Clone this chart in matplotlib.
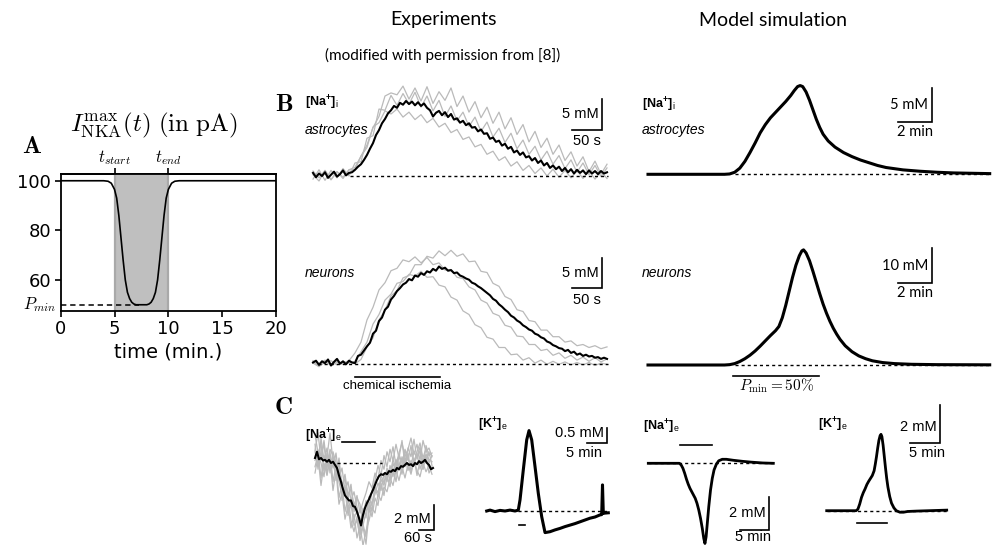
import numpy as np
import matplotlib
matplotlib.use('Agg')
import matplotlib.pyplot as plt

plt.rcParams['mathtext.fontset'] = 'cm'
plt.rcParams['mathtext.rm'] = 'Liberation Sans'
plt.rcParams['mathtext.bf'] = 'Liberation Sans:bold'
plt.rcParams['mathtext.it'] = 'Liberation Sans:italic'

# ---------------- DATA ----------------
# Panel A: pump capacity (% / pA) vs time (min)
a_time = [0, 4.0, 4.4, 4.7, 5.0, 5.2, 5.4, 5.6, 5.8, 6.0, 6.2, 6.4, 6.6, 6.8, 7.0, 7.5,
          8.0, 8.2, 8.4, 8.6, 8.8, 9.0, 9.2, 9.4, 9.6, 9.8, 10.0, 10.3, 10.6, 11.0, 20]
a_pump = [100, 100, 99.8, 99, 96.5, 93, 86, 77, 68, 60, 55, 52.5, 51, 50.3, 50, 50,
          50, 50.3, 51, 52.5, 55, 60, 68, 77, 86, 93, 96.5, 99, 99.8, 100, 100]
a_pmin = 50

# Panel B experiments: astrocytes [Na+]i (mM above baseline), 5 s sampling
astro_exp_black = [0.5, -0.2, 0.4, 0.0, 0.6, -0.3, 0.2, 0.7, -0.1, 0.3, 0.9, 0.1, 0.5,
                   0.6, 1.0, 1.5, 1.9, 2.6, 3.4, 4.4, 5.3, 6.6, 7.4, 8.5, 9.2, 10.1, 10.6,
                   11.3, 11.0, 11.8, 11.5, 12.1, 11.6, 12.0, 11.4, 11.9, 11.3, 11.7, 11.0,
                   10.6, 9.6, 10.2, 10.5, 9.8, 10.3, 9.5, 10.0, 9.1, 9.3, 8.6, 8.9, 8.2, 8.5,
                   7.8, 7.9, 7.2, 7.5, 6.8, 6.9, 6.0, 6.2, 5.5, 5.7, 4.9, 5.2, 4.4, 4.7, 3.8,
                   4.1, 3.4, 3.8, 3.0, 3.2, 2.5, 2.9, 2.1, 2.5, 1.7, 2.1, 1.3, 1.7, 1.1, 1.5,
                   0.8, 1.3, 0.6, 1.1, 0.4, 1.0, 0.5, 0.9, 0.3, 0.9, 0.4, 0.8, 0.3, 0.8, 0.4, 0.6]
# gray single-cell traces, 10 s sampling
astro_exp_gray = [
    [0.2, -0.8, 0.9, -0.6, 0.7, -0.4, 1.0, 1.4, 3.2, 5.0, 7.8, 9.6, 12.9, 13.4, 13.1, 14.5,
     12.4, 14.2, 12.1, 14.4, 11.7, 13.6, 12.2, 14.2, 11.2, 12.9, 10.3, 12.0, 9.4, 11.1, 8.5,
     10.3, 7.6, 9.4, 6.7, 8.3, 5.5, 7.2, 4.6, 6.1, 3.5, 5.0, 2.5, 3.9, 1.6, 3.1, 0.7, 2.4, 0.3, 1.9],
    [0.8, -0.3, 0.9, -0.6, 0.7, -0.2, 1.0, 1.0, 3.2, 4.6, 7.9, 8.6, 10.5, 10.0, 10.8, 9.5, 10.3,
     9.1, 9.9, 8.6, 9.3, 7.9, 8.5, 7.0, 7.5, 5.9, 6.3, 4.7, 5.1, 3.5, 4.0, 2.5, 3.1, 1.6, 2.3,
     0.9, 1.7, 0.4, 1.3, 0.0, 1.1, -0.2, 0.9, -0.3, 0.9, -0.4, 0.8, -0.5, 0.7, -0.4],
    [-0.5, 1.0, -0.7, 0.9, -0.3, 1.2, 0.0, 2.1, 2.3, 6.1, 6.5, 10.8, 10.6, 13.0, 11.4, 13.3,
     11.6, 13.5, 11.1, 12.9, 10.5, 12.2, 9.6, 11.3, 8.9, 10.3, 8.0, 9.5, 7.2, 8.7, 6.3, 7.7,
     5.4, 6.9, 4.4, 5.8, 3.5, 4.8, 2.6, 4.0, 1.9, 3.3, 1.2, 2.6, 0.6, 2.1, 0.2, 1.7, -0.1, 1.3],
]

# Panel B experiments: neurons [Na+]i, 5 s sampling
neuron_exp_black = [0.3, 0.6, -0.1, 0.5, 0.2, 0.8, -0.2, 0.4, 0.9, 0.1, 0.5, 0.0, 0.6, 0.3, 0.2,
                    1.4, 1.6, 2.3, 3.0, 3.6, 5.1, 5.6, 7.2, 7.8, 9.1, 9.6, 10.8, 11.4, 12.2, 12.7,
                    13.3, 13.6, 14.2, 14.0, 14.8, 14.6, 15.2, 14.9, 15.5, 15.3, 15.9, 15.6, 16.3,
                    15.9, 16.1, 15.6, 15.7, 15.2, 15.3, 14.8, 14.6, 14.3, 14.1, 13.6, 13.4, 13.0,
                    12.7, 12.3, 11.9, 11.5, 10.9, 10.6, 10.0, 9.6, 9.1, 8.7, 8.1, 7.8, 7.3, 7.0,
                    6.5, 6.2, 5.8, 5.6, 5.1, 4.9, 4.5, 4.3, 3.8, 3.6, 3.2, 3.0, 2.7, 2.6, 2.2,
                    2.4, 1.9, 2.1, 1.6, 1.8, 1.4, 1.6, 1.3, 1.4, 1.1, 1.2, 0.9, 1.1, 0.9]
neuron_exp_gray = [
    [0.2, -0.4, 0.5, -0.2, 0.3, 0.0, 0.4, 0.1, 0.8, 2.9, 4.4, 7.4, 9.0, 11.4, 12.3, 14.4, 14.8,
     16.6, 16.6, 18.0, 17.7, 18.9, 18.1, 19.0, 18.0, 18.4, 17.1, 17.2, 15.5, 15.3, 13.5, 13.0,
     11.3, 10.8, 9.1, 8.8, 7.3, 7.1, 5.7, 5.7, 4.6, 4.6, 3.7, 3.9, 3.1, 3.3, 2.8, 3.1, 2.6, 2.9],
    [0.6, 0.1, 0.7, 0.0, 0.5, 0.2, 0.6, 1.9, 3.7, 7.4, 9.5, 12.4, 13.6, 15.6, 16.0, 17.4, 17.1,
     17.9, 16.9, 17.8, 16.6, 16.9, 15.7, 15.8, 14.5, 14.3, 12.9, 12.4, 10.7, 10.2, 8.5, 8.1,
     6.5, 6.2, 4.7, 4.6, 3.3, 3.3, 2.3, 2.5, 1.5, 1.9, 1.0, 1.5, 0.7, 1.2, 0.5, 1.1, 0.4, 0.9],
    [0.4, -0.3, 0.3, 0.6, -0.1, 0.4, 0.2, 0.5, 2.1, 3.7, 6.7, 8.3, 10.7, 11.7, 13.5, 13.8, 15.0,
     14.7, 15.5, 14.5, 14.6, 13.2, 12.9, 11.2, 10.7, 8.9, 8.3, 6.6, 6.1, 4.5, 4.2, 2.8, 2.8,
     1.6, 1.7, 0.7, 1.1, 0.2, 0.7, 0.0, 0.5, 0.0, 0.4, -0.1, 0.3, -0.1, 0.3, -0.2, 0.2, 0.0],
]

# Panel B model (time min, mM above baseline)
astro_mod_t = [0, 4.5, 4.8, 5.1, 5.4, 5.7, 6.0, 6.3, 6.6, 6.9, 7.2, 7.5, 7.8, 8.1, 8.4, 8.6,
               8.8, 8.95, 9.1, 9.3, 9.5, 9.7, 9.9, 10.1, 10.3, 10.6, 11.0, 11.5, 12.0, 12.5,
               13.0, 13.5, 14.0, 15.0, 16.0, 17.0, 18.0, 20.1]
astro_mod_v = [0, 0, 0.05, 0.3, 0.9, 1.9, 3.2, 4.6, 6.1, 7.3, 8.3, 9.1, 9.9, 10.7, 11.6, 12.3,
               12.9, 13.05, 12.9, 12.1, 10.9, 9.5, 8.1, 6.9, 5.9, 4.9, 4.0, 3.2, 2.6, 2.1,
               1.7, 1.3, 1.0, 0.65, 0.45, 0.3, 0.2, 0.1]
neuron_mod_t = [0, 4.5, 4.8, 5.1, 5.4, 5.7, 6.0, 6.3, 6.6, 6.9, 7.2, 7.5, 7.7, 7.9, 8.1, 8.3,
                8.5, 8.7, 8.9, 9.05, 9.15, 9.3, 9.5, 9.7, 9.9, 10.1, 10.3, 10.5, 10.7, 10.9,
                11.1, 11.3, 11.6, 12.0, 12.4, 12.8, 13.2, 13.8, 14.5, 15.5, 17.0, 20.1]
neuron_mod_v = [0, 0, 0.1, 0.4, 1.0, 1.8, 2.8, 4.0, 5.4, 6.9, 8.4, 9.8, 11.0, 13.5, 17.0, 21.0,
                25.0, 28.5, 31.2, 32.6, 32.9, 32.0, 29.8, 26.8, 23.6, 20.4, 17.4, 14.8, 12.5,
                10.5, 8.8, 7.3, 5.5, 3.8, 2.6, 1.8, 1.2, 0.7, 0.4, 0.2, 0.1, 0.05]

# Panel C experiments: [Na+]e (8 s sampling, mM change)
nae_exp_black = [0.4, 0.9, 0.3, 0.4, 0.2, 0.25, 0.1, 0.25, 0.0, 0.1, -0.15, -0.4, -1.0, -1.5,
                 -2.1, -2.6, -2.8, -3.0, -3.0, -3.45, -3.5, -3.9, -4.4, -5.0, -4.15, -3.6, -3.2,
                 -2.9, -2.5, -2.15, -1.75, -1.35, -1.05, -0.9, -0.95, -0.8, -0.9, -0.65, -0.7,
                 -0.55, -0.65, -0.4, -0.5, -0.25, -0.3, -0.15, 0.0, -0.15, -0.1, -0.25, 0.0,
                 -0.1, 0.15, 0.0, 0.1, 0.25, 0.0, -0.15, -0.5, -0.4]
nae_exp_gray = [  # 12 s sampling
    [1.5, -0.5, 2.0, 0.2, 1.2, -0.8, 0.9, 0.0, -1.5, -2.5, -1.8, -3.6, -3.0, -4.5, -3.8, -5.6,
     -4.2, -3.0, -3.9, -2.2, -1.4, -0.2, -1.0, 0.6, -0.3, 1.1, 0.2, 1.5, 0.4, 1.8, -0.2, 1.2,
     0.5, 1.9, 0.3, 1.0, -0.5, 1.4, 0.6, 0.8],
    [0.2, 1.0, -1.2, 0.6, -0.4, 0.9, -1.5, -0.2, -2.8, -1.6, -3.9, -2.7, -4.6, -5.5, -4.3, -6.2,
     -5.1, -6.5, -4.0, -3.2, -2.5, -1.6, -2.2, -0.9, -1.5, -0.2, -1.1, 0.3, -0.6, 0.5, -0.3,
     0.8, -0.7, 0.4, -1.0, 0.2, -0.5, 0.6, -0.8, -0.3],
    [2.3, 0.8, 1.5, -0.6, 0.5, 2.4, 0.1, -1.0, 0.4, -2.0, -1.2, -2.9, -2.0, -3.4, -2.6, -4.0,
     -3.1, -2.4, -1.5, -2.0, -0.8, -1.3, 0.2, -0.5, 0.9, 0.1, 1.3, -0.2, 0.8, 1.6, 0.5, 1.1,
     2.0, 0.7, 1.5, 0.2, 1.8, 0.9, 1.2, 0.5],
    [-0.8, 0.5, -1.8, 0.0, -1.0, 0.3, -2.2, -0.6, -3.3, -2.4, -4.5, -3.4, -5.2, -4.1, -6.0,
     -5.0, -6.6, -5.4, -4.6, -3.6, -4.0, -2.5, -3.0, -1.9, -2.3, -1.2, -1.8, -0.6, -1.4, -0.3,
     -1.2, -0.1, -0.9, 0.2, -0.6, -1.1, 0.0, -0.7, -0.2, -0.9],
    [0.9, -0.2, 0.4, 1.6, -0.9, 0.6, -0.4, 0.8, -1.2, -0.4, -2.2, -1.5, -3.0, -2.3, -3.5, -4.8,
     -3.6, -4.4, -2.7, -3.3, -1.9, -2.4, -1.0, -1.6, -0.4, -1.0, 0.3, -0.5, 0.7, 0.0, 1.0, 0.3,
     -0.2, 0.9, 0.4, 1.3, -0.1, 0.7, 0.3, 0.1],
    [1.0, 2.4, 0.3, 1.8, -0.2, 1.1, 0.6, -0.7, -0.1, -1.8, -0.9, -2.6, -1.7, -3.9, -2.8, -3.3,
     -5.0, -3.9, -3.1, -3.8, -2.0, -2.7, -1.3, -1.8, -0.6, -1.3, 0.0, -0.8, 0.6, -0.4, 1.1, 0.2,
     1.4, 0.0, 0.9, 1.6, 0.4, 1.2, 0.0, 0.6],
    [-0.3, 0.7, 0.0, -1.1, 0.8, -0.5, 0.3, -1.4, -0.5, -3.0, -2.1, -4.2, -3.3, -5.0, -4.6, -5.8,
     -4.9, -5.9, -3.4, -4.3, -2.8, -3.4, -1.6, -2.6, -1.0, -1.9, -0.4, -1.5, 0.1, -0.9, 0.5,
     -0.6, 0.2, -0.2, 0.8, -0.5, 0.4, 0.0, 0.9, -0.2],
]
# Panel C experiments: [K+]e (time min, mM change)
ke_exp_t = [0, 0.83, 2.08, 3.33, 4.58, 5.83, 7.08, 7.9, 8.33, 9.15, 10.0, 10.58, 11.25, 12.08,
            12.9, 13.75, 14.58, 15.83, 17.08, 18.33, 19.58, 20.83, 22.08, 23.33, 24.58, 25.83,
            27.08, 28.33, 28.75, 28.95, 29.15, 29.58, 30.4]
ke_exp_v = [-0.01, 0.02, -0.03, 0.01, -0.01, 0.02, -0.01, 0.02, 0.36, 1.36, 2.36, 2.67, 2.36,
            1.47, 0.58, -0.2, -0.73, -0.7, -0.64, -0.59, -0.53, -0.48, -0.43, -0.37, -0.31,
            -0.25, -0.21, -0.14, -0.13, 0.86, -0.09, -0.08, -0.07]
# Panel C model
nae_mod_t = [0, 5.3, 5.6, 5.9, 6.2, 6.5, 6.8, 7.1, 7.4, 7.7, 8.0, 8.3, 8.6, 8.9, 9.2, 9.45,
             9.65, 9.85, 10.05, 10.3, 10.6, 10.9, 11.2, 11.6, 12.0, 12.6, 13.3, 14.5, 16.0,
             17.5, 19.5, 21.3]
nae_mod_v = [0, 0, -0.1, -0.3, -0.6, -0.95, -1.25, -1.5, -1.7, -1.9, -2.1, -2.4, -2.8, -3.3,
             -3.9, -4.5, -4.8, -4.4, -3.6, -2.6, -1.6, -0.9, -0.4, -0.05, 0.15, 0.24, 0.24,
             0.18, 0.12, 0.07, 0.02, 0.0]
ke_mod_t = [0, 4.9, 5.2, 5.5, 5.8, 6.1, 6.4, 6.7, 7.0, 7.3, 7.6, 7.9, 8.1, 8.3, 8.5, 8.7, 8.9,
            9.05, 9.2, 9.4, 9.6, 9.8, 10.0, 10.2, 10.5, 10.8, 11.2, 11.6, 12.2, 12.8, 13.5,
            15.0, 17.0, 20.0]
ke_mod_v = [0, 0, 0.08, 0.35, 0.7, 0.95, 1.15, 1.38, 1.55, 1.7, 1.85, 2.1, 2.45, 2.85, 3.3,
            3.7, 3.95, 4.02, 3.9, 3.45, 2.85, 2.25, 1.7, 1.25, 0.75, 0.4, 0.15, 0.0, -0.08,
            -0.08, -0.04, -0.02, 0.0, 0.03]

# ---------------- FIGURE ----------------
W, H = 993, 545
fig = plt.figure(figsize=(W / 100, H / 100), dpi=100)
SANS = 'Liberation Sans'
LATO = 'Lato'
GRAY = '#bababa'


def ftext(x, y, s, **kw):
    return fig.text(x / W, 1 - y / H, s, **kw)


def panel(l, t, r, b, x0, y0, sx, sy):
    ax = fig.add_axes([l / W, 1 - b / H, (r - l) / W, (b - t) / H])
    ax.set_xlim((l - x0) / sx, (r - x0) / sx)
    ax.set_ylim((y0 - b) / sy, (y0 - t) / sy)
    ax.axis('off')
    ax._map = (x0, y0, sx, sy)
    return ax


def d(ax, px, py):
    x0, y0, sx, sy = ax._map
    return (px - x0) / sx, (y0 - py) / sy


def scalebar(ax, px, py, lx, ly, lw=1.2):
    xc, yc = d(ax, px, py)
    ax.plot([xc - lx, xc, xc], [yc, yc, yc + ly], color='k', lw=lw, clip_on=False,
            solid_joinstyle='miter')


def hbar(ax, px1, px2, py, lw=1.2):
    x1, y = d(ax, px1, py)
    x2, _ = d(ax, px2, py)
    ax.plot([x1, x2], [y, y], color='k', lw=lw, clip_on=False)


def baseline(ax, px1, px2):
    x1, _ = d(ax, px1, 0)
    x2, _ = d(ax, px2, 0)
    ax.plot([x1, x2], [0, 0], color='k', lw=1.0, ls=(0, (2.2, 2.2)), clip_on=False)


def ion(x, y, name, sub):
    ftext(x, y, '[' + name + r'$^{\mathbf{+}}$]$_{\mathrm{' + sub + '}}$', family=SANS,
          weight='bold', fontsize=9, ha='left', va='center', math_fontfamily='custom')


# ---- Panel A ----
axA = fig.add_axes([60.7 / W, 1 - 310.7 / H, (276 - 60.7) / W, (310.7 - 174.3) / H])
axA.axvspan(5, 10, color='#bfbfbf', lw=0)
axA.axvline(5, color='#a9a9a9', lw=1.6)
axA.axvline(10, color='#a9a9a9', lw=1.6)
axA.plot(a_time, a_pump, color='k', lw=1.2)
axA.plot([0, 7.3], [a_pmin, a_pmin], color='k', ls=(0, (3.5, 2.5)), lw=1.1)
axA.set_xlim(0, 20)
axA.set_ylim(47.6, 102.6)
axA.set_xticks([0, 5, 10, 15, 20])
axA.set_yticks([60, 80, 100])
axA.tick_params(labelsize=13, length=4, width=1.2, pad=3)
for s in axA.spines.values():
    s.set_linewidth(1.3)
sec = axA.secondary_xaxis('top')
sec.set_xticks([5, 10], labels=[r'$t_{start}$', r'$t_{end}$'])
sec.tick_params(labelsize=12, length=4, width=1.2, pad=1)
sec.spines['top'].set_linewidth(1.3)
axA.set_xlabel('time (min.)', fontsize=14, labelpad=3)
axA.text(-0.35, a_pmin, r'$P_{min}$', ha='right', va='center', fontsize=12)
ftext(154, 125, r'$I^{\rm max}_{\rm NKA}(t)\ \rm (in\ pA)$', fontsize=18, ha='center',
      va='center')
ftext(32, 146, r'$\mathbf{A}$', fontsize=18, ha='center', va='center')
ftext(284, 104, r'$\mathbf{B}$', fontsize=18, ha='center', va='center')
ftext(283, 407, r'$\mathbf{C}$', fontsize=18, ha='center', va='center')

# ---- Titles ----
ftext(443, 20, 'Experiments', family=LATO, fontsize=14, ha='center', va='center')
ftext(443, 55, '(modified with permission from [8])', family=LATO, fontsize=11, ha='center',
      va='center')
ftext(773, 20, 'Model simulation', family=LATO, fontsize=14, ha='center', va='center')

# ---- B: astrocytes experiment ----
ax = panel(305, 80, 615, 195, 313, 176, 0.6, 6.2)
for g in astro_exp_gray:
    ax.plot(np.arange(len(g)) * 10, g, color=GRAY, lw=0.9, clip_on=False)
ax.plot(np.arange(len(astro_exp_black)) * 5, astro_exp_black, color='k', lw=1.5, clip_on=False)
baseline(ax, 350, 608)
scalebar(ax, 602, 130, 50, 5)
ion(305, 103, 'Na', 'i')
ftext(305, 130, 'astrocytes', family=SANS, style='italic', fontsize=10, ha='left', va='center')
ftext(599, 114, '5 mM', family=SANS, fontsize=10.5, ha='right', va='center')
ftext(587, 141, '50 s', family=SANS, fontsize=10.5, ha='center', va='center')

# ---- B: neurons experiment ----
ax = panel(305, 240, 615, 385, 313, 364.3, 0.6, 6.0)
for g in neuron_exp_gray:
    ax.plot(np.arange(len(g)) * 10, g, color=GRAY, lw=0.9, clip_on=False)
ax.plot(np.arange(len(neuron_exp_black)) * 5, neuron_exp_black, color='k', lw=1.5,
        clip_on=False)
baseline(ax, 318, 608)
scalebar(ax, 602, 288, 50, 5)
hbar(ax, 355, 440, 376.7)
ftext(305, 273, 'neurons', family=SANS, style='italic', fontsize=10, ha='left', va='center')
ftext(599, 273, '5 mM', family=SANS, fontsize=10.5, ha='right', va='center')
ftext(587, 300, '50 s', family=SANS, fontsize=10.5, ha='center', va='center')
ftext(397, 386, 'chemical ischemia', family=SANS, fontsize=9.5, ha='center', va='center')

# ---- B: astrocytes model ----
ax = panel(640, 75, 993, 185, 648, 174.3, 17, 6.8)
baseline(ax, 735, 990)
ax.plot(astro_mod_t, astro_mod_v, color='k', lw=2.2, clip_on=False)
scalebar(ax, 931.7, 122, 2, 5)
ion(642, 105, 'Na', 'i')
ftext(642, 130, 'astrocytes', family=SANS, style='italic', fontsize=10, ha='left', va='center')
ftext(928, 105, '5 mM', family=LATO, fontsize=10.5, ha='right', va='center')
ftext(915, 132, '2 min', family=LATO, fontsize=10.5, ha='center', va='center')

# ---- B: neurons model ----
ax = panel(640, 240, 993, 385, 648, 365, 17, 3.5)
baseline(ax, 735, 990)
ax.plot(neuron_mod_t, neuron_mod_v, color='k', lw=2.2, clip_on=False)
scalebar(ax, 931.7, 283.3, 2, 10)
hbar(ax, 733, 819, 375.7)
ftext(642, 273, 'neurons', family=SANS, style='italic', fontsize=10, ha='left', va='center')
ftext(928, 266, '10 mM', family=LATO, fontsize=10.5, ha='right', va='center')
ftext(915, 293, '2 min', family=LATO, fontsize=10.5, ha='center', va='center')
ftext(776, 386, r'$P_{\rm min} = 50\%$', fontsize=11, ha='center', va='center')

# ---- C: [Na+]e experiment ----
ax = panel(300, 420, 445, 545, 315, 463, 0.25, 12.5)
for g in nae_exp_gray:
    ax.plot(np.arange(len(g)) * 12, g, color=GRAY, lw=0.9, clip_on=False)
ax.plot(np.arange(len(nae_exp_black)) * 8, nae_exp_black, color='k', lw=1.5, clip_on=False)
baseline(ax, 336.7, 381.7)
hbar(ax, 341.7, 375, 441.7)
scalebar(ax, 434, 530, 60, 2)
ion(305, 436, 'Na', 'e')
ftext(431, 519, '2 mM', family=SANS, fontsize=10.5, ha='right', va='center')
ftext(418, 538, '60 s', family=SANS, fontsize=10.5, ha='center', va='center')

# ---- C: [K+]e experiment ----
ax = panel(480, 420, 615, 540, 486.7, 510.7, 4, 30)
baseline(ax, 518, 606.7)
ax.plot(ke_exp_t, ke_exp_v, color='k', lw=2.2, clip_on=False)
hbar(ax, 519.3, 525, 525)
scalebar(ax, 606.7, 443.3, 5, 0.5)
ion(478, 425, 'K', 'e')
ftext(604, 433, '0.5 mM', family=SANS, fontsize=10.5, ha='right', va='center')
ftext(584, 453, '5 min', family=SANS, fontsize=10.5, ha='center', va='center')

# ---- C: [Na+]e model ----
ax = panel(640, 420, 780, 545, 648.3, 463.3, 5.87, 16.7)
baseline(ax, 648.3, 773.3)
ax.plot(nae_mod_t, nae_mod_v, color='k', lw=2.0, clip_on=False)
hbar(ax, 680, 711.7, 445)
scalebar(ax, 769.3, 530, 5, 2)
ion(643, 427, 'Na', 'e')
ftext(766, 513, '2 mM', family=SANS, fontsize=10.5, ha='right', va='center')
ftext(753, 537, '5 min', family=SANS, fontsize=10.5, ha='center', va='center')

# ---- C: [K+]e model ----
ax = panel(815, 400, 960, 540, 826.7, 510.7, 6, 19)
baseline(ax, 826.7, 946.7)
ax.plot(ke_mod_t, ke_mod_v, color='k', lw=2.0, clip_on=False)
hbar(ax, 856.7, 887.3, 523.3)
scalebar(ax, 940, 443.3, 5, 2)
ion(818, 425, 'K', 'e')
ftext(937, 427, '2 mM', family=SANS, fontsize=10.5, ha='right', va='center')
ftext(927, 453, '5 min', family=SANS, fontsize=10.5, ha='center', va='center')

fig.savefig('out.png', dpi=100)
